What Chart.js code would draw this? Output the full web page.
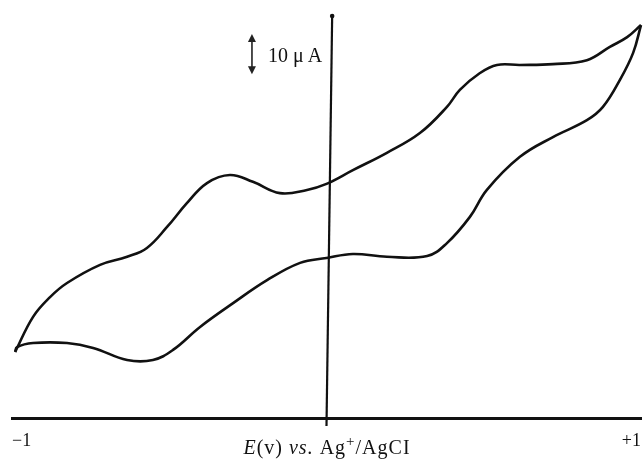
<!DOCTYPE html>
<html>
<head>
<meta charset="utf-8">
<script src="https://cdn.jsdelivr.net/npm/chart.js@4.4.1/dist/chart.umd.min.js"></script>
<style>
	html, body { margin: 0; padding: 0; background: #fff; }
	#wrap { width: 644px; height: 459px; position: relative; }
</style>
</head>
<body>
<div id="wrap"><canvas id="cvChart"></canvas></div>
<script>
// Potential E (V vs. Ag+/AgCl) and current (uA, arbitrary offset)
const upperE = [-0.99, -0.933, -0.879, -0.825, -0.72, -0.634, -0.571, -0.507, -0.444, -0.38, -0.307, -0.234, -0.148, -0.062, 0.0, 0.084, 0.192, 0.297, 0.383, 0.424, 0.488, 0.542, 0.615, 0.72, 0.828, 0.901, 0.956, 1.0];
const upperI = [16.4, 25.1, 30.0, 33.5, 38.0, 40.0, 42.2, 47.4, 53.3, 58.3, 60.3, 58.6, 55.8, 56.6, 58.1, 61.5, 65.8, 70.7, 77.2, 81.4, 85.6, 87.6, 87.6, 87.8, 88.8, 92.1, 94.5, 97.5];
const lowerE = [-0.99, -0.984, -0.933, -0.825, -0.742, -0.634, -0.552, -0.488, -0.402, -0.297, -0.189, -0.084, 0.0, 0.084, 0.192, 0.32, 0.383, 0.456, 0.51, 0.615, 0.72, 0.828, 0.879, 0.933, 0.975, 1.0];
const lowerI = [16.4, 17.6, 18.6, 18.6, 17.4, 14.4, 14.4, 16.9, 22.6, 28.5, 34.2, 38.5, 39.7, 40.7, 40.0, 40.2, 43.4, 49.9, 56.6, 64.8, 69.7, 73.9, 77.2, 83.9, 90.6, 97.5];
const xTicks = [-1, 1];
const xTickLabels = ["\u22121", "+1"];
const scaleBarTop = 95.3; // 10 uA bar
const scaleBarSize = 10;

const INK = "#111";
const SERIF = "'Liberation Serif', 'DejaVu Serif', serif";

function toPoints(xs, ys) {
	return xs.map((x, i) => ({ x: x, y: ys[i] }));
}

// vertical current axis, scale bar and the mixed-style axis title
const decorations = {
	id: "decorations",
	afterDraw(chart) {
		const ctx = chart.ctx;
		const xs = chart.scales.x;
		const ys = chart.scales.y;
		const area = chart.chartArea;
		ctx.save();
		ctx.strokeStyle = INK;
		ctx.fillStyle = INK;

		// vertical axis through E = 0 (slightly leaning, as drawn)
		const xb = xs.getPixelForValue(0);
		const xt = xs.getPixelForValue(0.018);
		ctx.lineWidth = 2.2;
		ctx.beginPath();
		ctx.moveTo(xb, area.bottom + 8);
		ctx.lineTo(xt, area.top + 1);
		ctx.stroke();
		ctx.beginPath();
		ctx.arc(xt, area.top + 1, 2.3, 0, Math.PI * 2);
		ctx.fill();

		// 10 uA scale arrow
		const ax = xs.getPixelForValue(-0.237);
		const ay1 = ys.getPixelForValue(scaleBarTop);
		const ay2 = ys.getPixelForValue(scaleBarTop - scaleBarSize);
		ctx.strokeStyle = "#222";
		ctx.fillStyle = "#222";
		ctx.lineWidth = 1.6;
		ctx.beginPath();
		ctx.moveTo(ax, ay1 + 4);
		ctx.lineTo(ax, ay2 - 4);
		ctx.stroke();
		ctx.beginPath();
		ctx.moveTo(ax, ay1);
		ctx.lineTo(ax - 4, ay1 + 8);
		ctx.lineTo(ax + 4, ay1 + 8);
		ctx.closePath();
		ctx.fill();
		ctx.beginPath();
		ctx.moveTo(ax, ay2);
		ctx.lineTo(ax - 4, ay2 - 8);
		ctx.lineTo(ax + 4, ay2 - 8);
		ctx.closePath();
		ctx.fill();

		ctx.fillStyle = INK;
		ctx.font = "20px " + SERIF;
		ctx.textBaseline = "alphabetic";
		ctx.textAlign = "left";
		ctx.fillText("10 \u03bc\u2009A", ax + 16, (ay1 + ay2) / 2 + 8);

		// E(v) vs. Ag+/AgCI
		const parts = [
			["E", "italic 20px " + SERIF, 0],
			["(v) ", "20px " + SERIF, 0],
			["vs.", "italic 20px " + SERIF, 0],
			[" Ag", "20px " + SERIF, 0],
			["+", "15px " + SERIF, -8],
			["/AgCI", "20px " + SERIF, 0],
		];
		ctx.letterSpacing = "1px";
		let total = 0;
		parts.forEach((p) => {
			ctx.font = p[1];
			total += ctx.measureText(p[0]).width;
		});
		let x = 327 - total / 2;
		const base = 454;
		parts.forEach((p) => {
			ctx.font = p[1];
			ctx.fillText(p[0], x, base + p[2]);
			x += ctx.measureText(p[0]).width;
		});
		ctx.restore();
	},
};

const lineStyle = {
	borderColor: INK,
	borderWidth: 2.6,
	pointRadius: 0,
	tension: 0.4,
	fill: false,
	showLine: true,
	clip: false,
};

new Chart(document.getElementById("cvChart"), {
	type: "scatter",
	data: {
		datasets: [
			Object.assign({ label: "forward", data: toPoints(upperE, upperI) }, lineStyle),
			Object.assign({ label: "reverse", data: toPoints(lowerE, lowerI) }, lineStyle),
		],
	},
	options: {
		responsive: true,
		maintainAspectRatio: false,
		animation: false,
		layout: { padding: { left: 12, right: 3, top: 15, bottom: 8 } },
		scales: {
			x: {
				type: "linear",
				min: -1,
				max: 1,
				grid: { display: false, drawTicks: false },
				border: { display: true, color: INK, width: 3 },
				afterBuildTicks: (axis) => {
					axis.ticks = xTicks.map((v) => ({ value: v }));
				},
				afterFit: (axis) => {
					axis.height = 33;
					axis.paddingLeft = 0;
					axis.paddingRight = 0;
				},
				ticks: {
					padding: 12,
					align: "inner",
					maxRotation: 0,
					color: INK,
					font: { family: SERIF, size: 18 },
					callback: (v) => xTickLabels[xTicks.indexOf(v)],
				},
			},
			y: {
				type: "linear",
				min: 0,
				max: 100,
				display: false,
			},
		},
		plugins: {
			legend: { display: false },
			tooltip: { enabled: false },
		},
	},
	plugins: [decorations],
});
</script>
</body>
</html>
